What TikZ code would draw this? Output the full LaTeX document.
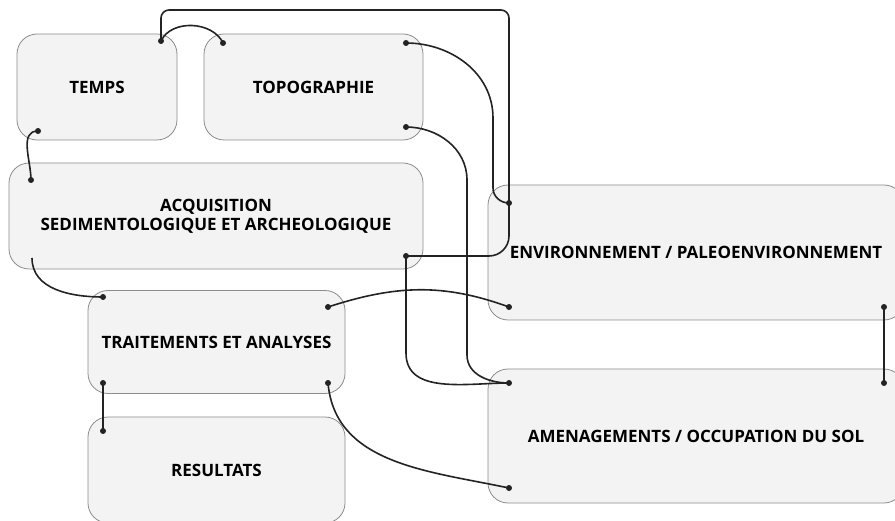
\documentclass[tikz,border=0pt]{standalone}
\usepackage{fontspec}
\setmainfont{Open Sans}
\usetikzlibrary{calc,positioning}
\definecolor{boxfill}{RGB}{243,243,243}
\definecolor{boxline}{RGB}{140,140,140}
\definecolor{linkcol}{RGB}{35,35,35}
\tikzset{
	x=1pt, y=1pt,
	box/.style={draw=boxline, fill=boxfill, rounded corners=20pt, line width=0.8pt,
		font=\bfseries\fontsize{17}{19}\selectfont, align=center, inner sep=0pt},
	dot/.style={circle, fill=linkcol, inner sep=0pt, minimum size=6pt},
	link/.style={draw=linkcol, line width=1.6pt},
}

\begin{document}
\begin{tikzpicture}
	\useasboundingbox (0,0) rectangle (895,-521);
	\clip (0,0) rectangle (895,-521);

	% boxes
	\node[box, minimum width=160pt, minimum height=106pt] (temps) at (97,-87) {TEMPS};
	\node[box, minimum width=219pt, minimum height=106pt] (topo) at (313.5,-87) {TOPOGRAPHIE};
	\node[box, minimum width=414pt, minimum height=106pt] (acq) at (216,-216) {ACQUISITION\\SEDIMENTOLOGIQUE ET ARCHEOLOGIQUE};
	\node[box, minimum width=257pt, minimum height=103pt] (trait) at (216.5,-342) {TRAITEMENTS ET ANALYSES};
	\node[box, minimum width=257pt, minimum height=106pt] (res) at (216.5,-470) {RESULTATS};
	\node[box, minimum width=416pt, minimum height=135pt] (env) at (696,-252.5) {ENVIRONNEMENT / PALEOENVIRONNEMENT};
	\node[box, minimum width=416pt, minimum height=134pt] (amen) at (696,-436) {AMENAGEMENTS / OCCUPATION DU SOL};

	% end points
	\node[dot] (tempsA) at (161,-41) {};
	\node[dot] (tempsB) at (38,-131) {};
	\node[dot] (topoA) at (223,-43) {};
	\node[dot] (topoB) at (406,-43) {};
	\node[dot] (topoC) at (406,-127) {};
	\node[dot] (acqA) at (31,-180) {};
	\node[dot] (acqB) at (406,-256) {};
	\coordinate (acqC) at (32,-258);
	\node[dot] (traitA) at (103,-297) {};
	\node[dot] (traitB) at (328,-307) {};
	\node[dot] (traitC) at (103,-383) {};
	\node[dot] (traitD) at (328,-383) {};
	\node[dot] (resA) at (103,-431) {};
	\node[dot] (envA) at (509,-203) {};
	\node[dot] (envB) at (509,-307) {};
	\node[dot] (envC) at (884,-307) {};
	\node[dot] (amenA) at (509,-383) {};
	\node[dot] (amenB) at (509,-488) {};
	\node[dot] (amenC) at (884,-383) {};

	% links
	\draw[link, rounded corners=8pt] (tempsA.center) -- ++(0,31) -| (envA.center);
	\draw[link] (tempsA.center) to[out=65,in=115] (topoA.center);
	\draw[link] (tempsB.center) to[out=180,in=90] (acqA.center);
	\draw[link] (topoB.center) to[out=0,in=90] ++(87,-75) -- ++(0,-70) to[out=-90,in=180] (envA.center);
	\draw[link] (topoC.center) to[out=0,in=90] ++(61,-53) -- ++(0,-175) to[out=-90,in=180] (amenA.center);
	\draw[link, rounded corners=20pt] (acqB.center) -| (envA.center);
	\draw[link] (acqB.center) -- ++(0,-97) to[out=-90,in=180] (amenA.center);
	\draw[link] (acqC) to[out=-90,in=180] (traitA.center);
	\draw[link] (traitB.center) to[out=18,in=160] (envB.center);
	\draw[link] (traitC.center) -- (resA.center);
	\draw[link] (traitD.center) to[out=-85,in=168] (amenB.center);
	\draw[link] (envC.center) -- (amenC.center);
\end{tikzpicture}
\end{document}
